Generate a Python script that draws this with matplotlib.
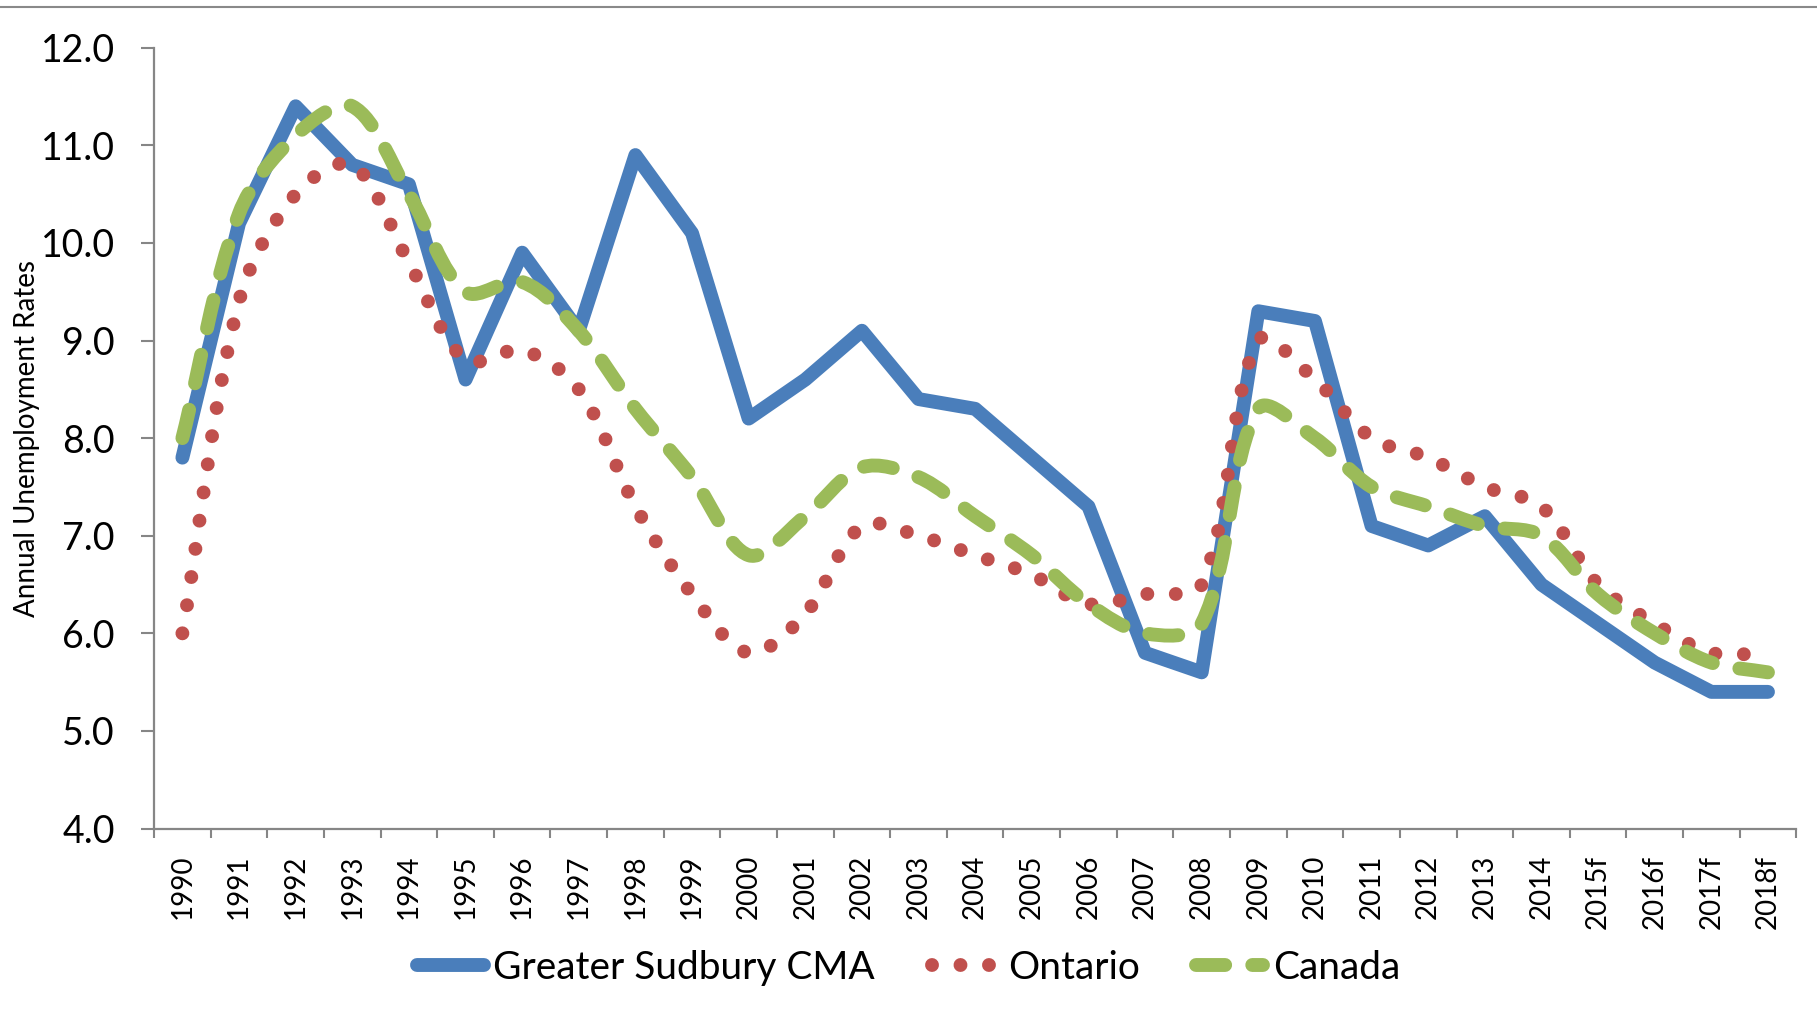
import numpy as np
import matplotlib
matplotlib.use("Agg")
import matplotlib.pyplot as plt
from matplotlib.path import Path
from matplotlib.patches import PathPatch
from matplotlib.lines import Line2D

plt.rcParams['font.family'] = ['Lato', 'DejaVu Sans']
plt.rcParams['lines.scale_dashes'] = False

# ---------- data ----------
years = ['1990', '1991', '1992', '1993', '1994', '1995', '1996', '1997', '1998', '1999',
         '2000', '2001', '2002', '2003', '2004', '2005', '2006', '2007', '2008', '2009',
         '2010', '2011', '2012', '2013', '2014', '2015f', '2016f', '2017f', '2018f']
sudbury = [7.8, 10.2, 11.4, 10.8, 10.6, 8.6, 9.9, 9.1, 10.9, 10.1,
           8.2, 8.6, 9.1, 8.4, 8.3, 7.8, 7.3, 5.8, 5.6, 9.3,
           9.2, 7.1, 6.9, 7.2, 6.5, 6.1, 5.7, 5.4, 5.4]
ontario = [6.0, 9.4, 10.5, 10.8, 9.8, 8.8, 8.9, 8.5, 7.3, 6.4,
           5.8, 6.2, 7.1, 7.0, 6.8, 6.6, 6.3, 6.4, 6.5, 9.0,
           8.6, 8.0, 7.8, 7.5, 7.3, 6.5, 6.1, 5.8, 5.8]
canada = [8.0, 10.3, 11.1, 11.4, 10.5, 9.5, 9.6, 9.1, 8.3, 7.6,
          6.8, 7.2, 7.7, 7.6, 7.2, 6.8, 6.3, 6.0, 6.1, 8.3,
          8.0, 7.5, 7.3, 7.1, 7.0, 6.4, 6.0, 5.7, 5.6]
series_names = ['Greater Sudbury CMA', 'Ontario', 'Canada']

c_blue = '#4A7EBB'
c_red = '#C0504D'
c_green = '#9BBB59'
c_axis = '#868686'

dotted = (0, (0.01, 20.5))
dashed = (0, (21, 19.5))

fig = plt.figure(figsize=(18.17, 10.11), dpi=100)
ax = fig.add_axes([0.0848, 0.1805, 0.9038, 0.7723])
ax.set_xlim(-0.5, len(years) - 0.5)
ax.set_ylim(4, 12)

# pixels per data unit, used to weigh the smoothing like Excel does
bb = ax.get_position()
px_x = bb.width * fig.get_figwidth() * fig.dpi / (len(years))
px_y = bb.height * fig.get_figheight() * fig.dpi / 8.0


def smooth_path(xs, ys):
    # Excel-like smoothed line: Bezier through every point, tangents
    # weighted by the lengths of the neighbouring segments
    pts = np.column_stack([xs, ys]).astype(float)
    sc = np.array([px_x, px_y])
    n = len(pts)
    verts = [pts[0]]
    codes = [Path.MOVETO]
    for i in range(n - 1):
        p0 = pts[i - 1] if i > 0 else pts[i]
        p1 = pts[i]
        p2 = pts[i + 1]
        p3 = pts[i + 2] if i + 2 < n else pts[i + 1]
        d01 = np.hypot(*((p1 - p0) * sc))
        d12 = np.hypot(*((p2 - p1) * sc))
        d23 = np.hypot(*((p3 - p2) * sc))
        c1 = p1 + (p2 - p0) * (d12 / (d01 + d12)) / 3
        c2 = p2 - (p3 - p1) * (d12 / (d12 + d23)) / 3
        verts += [c1, c2, p2]
        codes += [Path.CURVE4] * 3
    return Path(verts, codes)


x = np.arange(len(years))

ax.plot(x, sudbury, color=c_blue, lw=10, solid_capstyle='round',
        solid_joinstyle='round', zorder=3)
ax.add_patch(PathPatch(smooth_path(x, ontario), fill=False, edgecolor=c_red, lw=10,
                       linestyle=dotted, capstyle='round', joinstyle='round', zorder=4))
ax.add_patch(PathPatch(smooth_path(x, canada), fill=False, edgecolor=c_green, lw=10,
                       linestyle=dashed, capstyle='round', joinstyle='round', zorder=5))

# ---------- axes ----------
for s in ['top', 'right']:
    ax.spines[s].set_visible(False)
for s in ['left', 'bottom']:
    ax.spines[s].set_color(c_axis)
    ax.spines[s].set_linewidth(1.6)

yt = np.arange(4, 12.01, 1.0)
ax.set_yticks(yt)
ax.set_yticklabels([f'{v:.1f}' for v in yt])
ax.tick_params(axis='y', length=9.4, width=1.5, color=c_axis, pad=19, labelsize=27)

ax.set_xticks(x)
ax.set_xticklabels(years, rotation=90)
ax.set_xticks(np.arange(-0.5, len(years), 1.0), minor=True)
ax.tick_params(axis='x', which='major', length=0, pad=19, labelsize=20)
ax.tick_params(axis='x', which='minor', length=6.5, width=1.5, color=c_axis)

ax.set_ylabel('Annual Unemployment Rates', fontsize=20)
ax.yaxis.set_label_coords(-0.0694, 0.5)

# ---------- legend ----------
handles = [
    Line2D([], [], color=c_blue, lw=10, solid_capstyle='round'),
    Line2D([], [], color=c_red, lw=10, linestyle=dotted, dash_capstyle='round'),
    Line2D([], [], color=c_green, lw=10, linestyle=dashed, dash_capstyle='round'),
]
fig.legend(handles, series_names, loc='center', bbox_to_anchor=(0.5, 0.043), ncol=3,
           frameon=False, fontsize=28, handlelength=1.72, handletextpad=0.25,
           columnspacing=1.45, borderaxespad=0)

# thin rule across the top of the image
fig.add_artist(Line2D([0, 1], [0.9931, 0.9931], transform=fig.transFigure,
                      color='#898989', lw=1.5))

fig.savefig('out.png', dpi=100)
